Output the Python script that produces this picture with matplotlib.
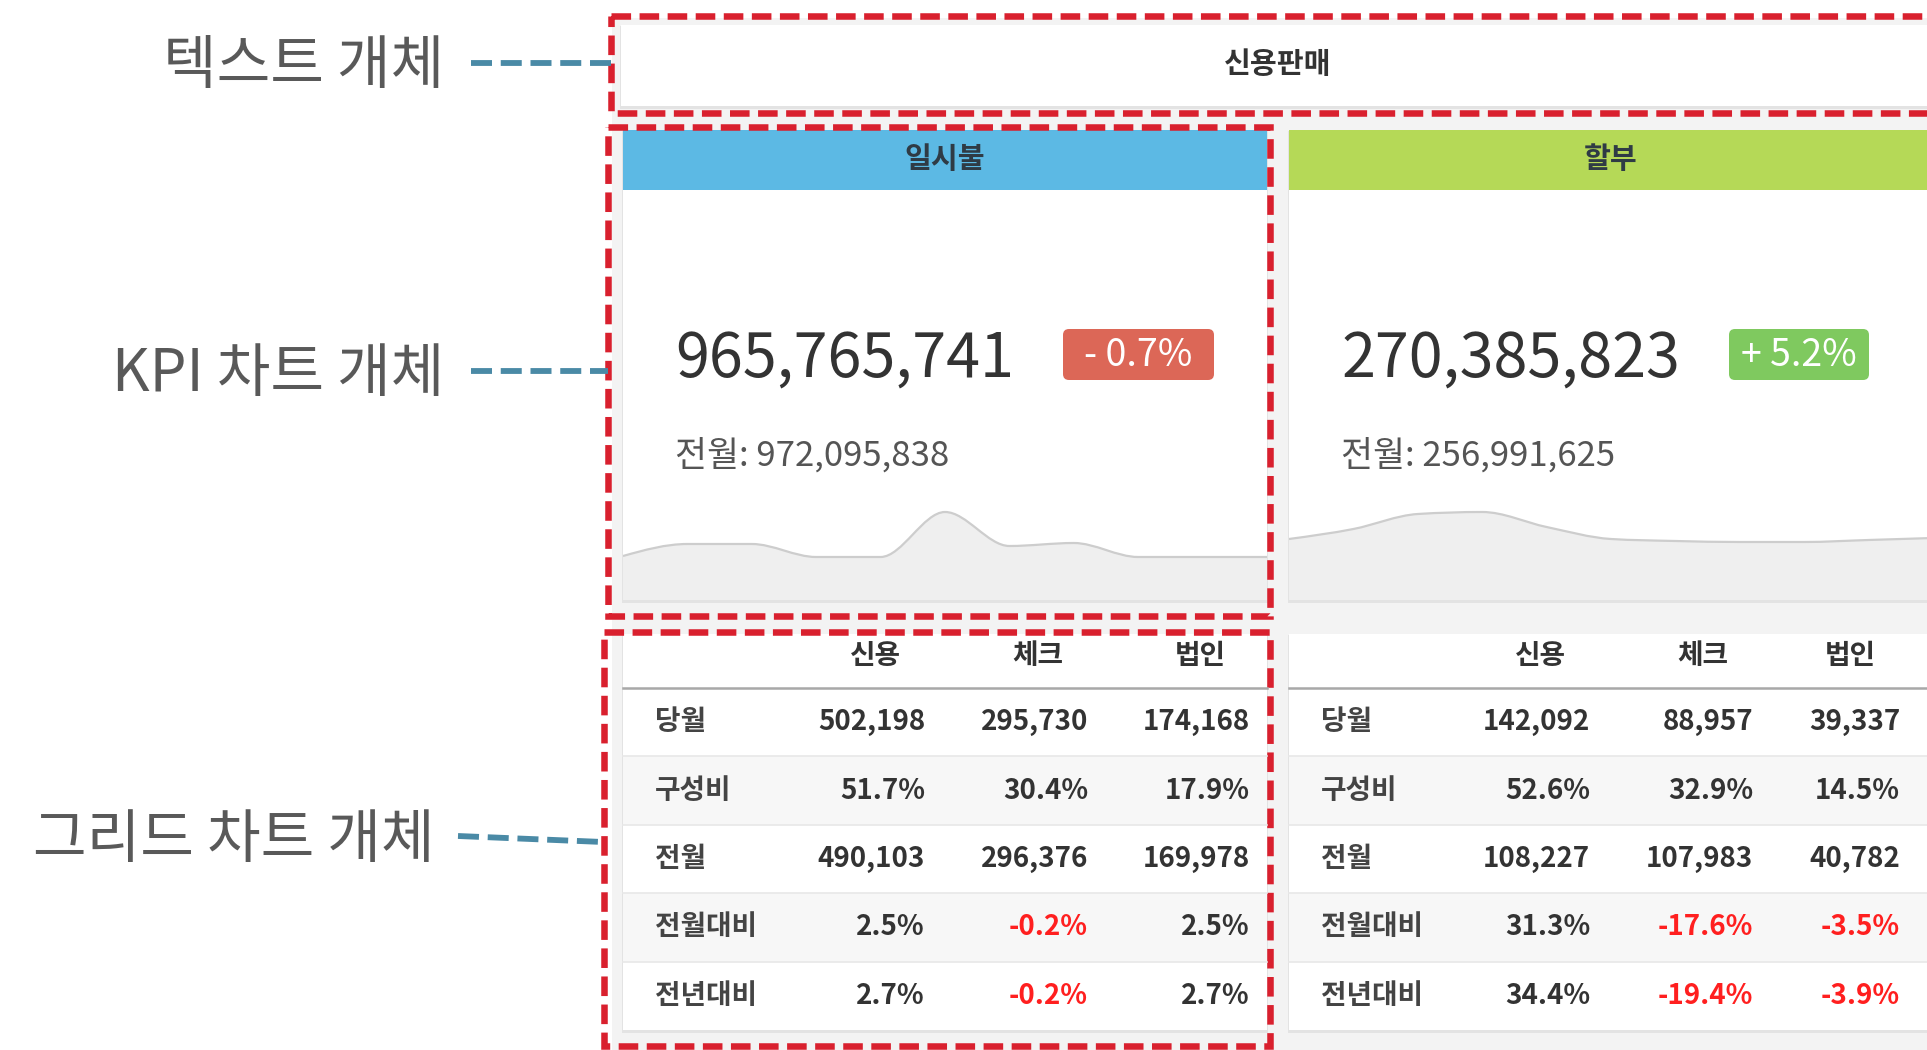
import numpy as np
import matplotlib.pyplot as plt
from matplotlib.patches import Rectangle, FancyBboxPatch, PathPatch
from matplotlib.path import Path

plt.rcParams['font.family'] = ['Noto Sans CJK KR', 'DejaVu Sans']

# ---- data ----
page_title = "신용판매"
card_titles = ["일시불", "할부"]
kpi_current = [965765741, 270385823]
kpi_previous = [972095838, 256991625]

# monthly trend behind each KPI (relative height)
spark_ilsibul = [44, 56, 56, 43, 43, 88, 54, 57, 43, 43, 43]
spark_halbu = [61, 71, 86, 88, 73, 61, 59, 58, 58, 60, 62]

grid_cols = ["신용", "체크", "법인"]
grid_rows = ["당월", "구성비", "전월", "전월대비", "전년대비"]
ilsibul_month = [502198, 295730, 174168]
ilsibul_share = [51.7, 30.4, 17.9]
ilsibul_prev = [490103, 296376, 169978]
ilsibul_mom = [2.5, -0.2, 2.5]
ilsibul_yoy = [2.7, -0.2, 2.7]
halbu_month = [142092, 88957, 39337]
halbu_share = [52.6, 32.9, 14.5]
halbu_prev = [108227, 107983, 40782]
halbu_mom = [31.3, -17.6, -3.5]
halbu_yoy = [34.4, -19.4, -3.9]

callouts = ["텍스트 개체", "KPI 차트 개체", "그리드 차트 개체"]

W, H = 1927, 1050
fig = plt.figure(figsize=(W / 100, H / 100), dpi=100)
ax = fig.add_axes([0, 0, 1, 1])
ax.set_xlim(0, W)
ax.set_ylim(H, 0)
ax.axis('off')

# dashboard background
ax.add_patch(Rectangle((612, 18), W - 612, H - 18, fc='#f3f3f3', ec='none'))


def card(x0, y0, x1, y1, fc='white'):
    ax.add_patch(Rectangle((x0 - 1, y0 + 1), x1 - x0 + 2, y1 - y0 + 2, fc='#e3e3e3', ec='none'))
    ax.add_patch(Rectangle((x0, y0), x1 - x0, y1 - y0, fc=fc, ec='none'))


def monotone(xs, ys):
    # d3 monotoneX style bezier segments
    xs = np.asarray(xs, float)
    ys = np.asarray(ys, float)
    h = np.diff(xs)
    s = np.diff(ys) / h
    m = np.zeros_like(ys)
    for i in range(1, len(ys) - 1):
        p = (s[i - 1] * h[i] + s[i] * h[i - 1]) / (h[i - 1] + h[i])
        m[i] = (np.sign(s[i - 1]) + np.sign(s[i])) * min(abs(s[i - 1]), abs(s[i]), 0.5 * abs(p))
    m[0] = (3 * s[0] - m[1]) / 2
    m[-1] = (3 * s[-1] - m[-2]) / 2
    verts = [(xs[0], ys[0])]
    codes = [Path.MOVETO]
    for i in range(len(xs) - 1):
        d = h[i] / 3
        verts += [(xs[i] + d, ys[i] + m[i] * d), (xs[i + 1] - d, ys[i + 1] - m[i + 1] * d), (xs[i + 1], ys[i + 1])]
        codes += [Path.CURVE4] * 3
    return verts, codes


# text object
card(621, 25, 1940, 106)
ax.text(1278, 64, page_title, ha='center', va='center', fontsize=21, color='#333333', weight='bold')

# KPI cards
card_x = [(623, 1267), (1289, 1933)]
head_colors = ['#5cb9e4', '#b5d957']
badge_w = [151, 140]
sparks = [spark_ilsibul, spark_halbu]
for k, (x0, x1) in enumerate(card_x):
    card(x0, 130, x1, 600)
    ax.add_patch(Rectangle((x0, 130), x1 - x0, 60, fc=head_colors[k], ec='none'))
    ax.text((x0 + x1) / 2, 159, card_titles[k], ha='center', va='center', fontsize=21,
            color='#2f3b45', weight='bold')

    ax.text(x0 + 52, 360, f"{kpi_current[k]:,}", ha='left', va='center', fontsize=44,
            color='#333333', weight='light')
    ax.text(x0 + 52, 456, f"전월: {kpi_previous[k]:,}", ha='left', va='center', fontsize=25,
            color='#555555', weight='light')

    chg = (kpi_current[k] / kpi_previous[k] - 1) * 100
    bx = x0 + 440
    ax.add_patch(FancyBboxPatch((bx, 329), badge_w[k], 51, boxstyle='round,pad=0,rounding_size=6',
                                fc='#7fc95f' if chg > 0 else '#dc6757', ec='none'))
    ax.text(bx + badge_w[k] / 2, 356, f"{'+' if chg > 0 else '-'} {abs(chg):.1f}%", ha='center',
            va='center', fontsize=27, color='white', weight='light')

    sax = fig.add_axes([x0 / W, 1 - 600 / H, (x1 - x0) / W, 90 / H])
    sax.set_xlim(0, len(sparks[k]) - 1)
    sax.set_ylim(0, 90)
    sax.axis('off')
    xs = np.arange(len(sparks[k]))
    verts, codes = monotone(xs, sparks[k])
    fill_v = verts + [(xs[-1], 0), (xs[0], 0), (xs[0], sparks[k][0])]
    fill_c = codes + [Path.LINETO, Path.LINETO, Path.CLOSEPOLY]
    sax.add_patch(PathPatch(Path(fill_v, fill_c), fc='#efefef', ec='none'))
    sax.add_patch(PathPatch(Path(verts, codes), fc='none', ec='#cdcdcd', lw=1.6))

# grid tables
tables = [
    [ilsibul_month, ilsibul_share, ilsibul_prev, ilsibul_mom, ilsibul_yoy],
    [halbu_month, halbu_share, halbu_prev, halbu_mom, halbu_yoy],
]
col_right = [[925, 1088, 1250], [1590, 1753, 1900]]
row_h = 68.4
for k, (x0, x1) in enumerate(card_x):
    card(x0, 634, x1, 1030)
    for j, c in enumerate(grid_cols):
        ax.text(col_right[k][j] - 50, 656, c, ha='center', va='center', fontsize=20,
                color='#333333', weight='bold')
    for i, lab in enumerate(grid_rows):
        top = 688 + i * row_h
        if i % 2 == 1:
            ax.add_patch(Rectangle((x0, top), x1 - x0, row_h, fc='#f7f7f7', ec='none'))
        if i > 0:
            ax.plot([x0, x1], [top, top], color='#e8e8e8', lw=1.2)
        cy = top + row_h / 2
        ax.text(x0 + 32, cy, lab, ha='left', va='center', fontsize=20, color='#444444', weight='bold')
        for j in range(3):
            v = tables[k][i][j]
            if i in (0, 2):
                s, col = f"{v:,}", '#333333'
            else:
                s, col = f"{v:.1f}%", ('#ff1f1f' if v < 0 else '#333333')
            ax.text(col_right[k][j], cy, s, ha='right', va='center', fontsize=20, color=col, weight='bold')
    ax.plot([x0, x1], [688, 688], color='#a8a8a8', lw=1.8)

# callout labels and leaders
lab_pos = [(444, 66), (444, 375), (435, 841)]
leaders = [((471, 611), (63, 63)), ((471, 608), (371, 371)), ((458, 603), (836, 842))]
for t, (lx, ly), (lxs, lys) in zip(callouts, lab_pos, leaders):
    ax.text(lx, ly, t, ha='right', va='center', fontsize=42, color='#595959', weight='light')
    ax.plot(lxs, lys, color='#4a8aa6', lw=4.2, ls=(0, (3.6, 1.5)), solid_capstyle='butt',
            dash_capstyle='butt')

# red dashed highlight boxes
for (bx0, by0, bx1, by1) in [(611, 16, 1945, 113), (608, 127, 1270, 616), (604, 632, 1270, 1046)]:
    ax.add_patch(Rectangle((bx0, by0), bx1 - bx0, by1 - by0, fill=False, ec='#d9202e', lw=4.7,
                           ls=(0, (3.0, 1.3))))

fig.savefig('out.png', dpi=100)
